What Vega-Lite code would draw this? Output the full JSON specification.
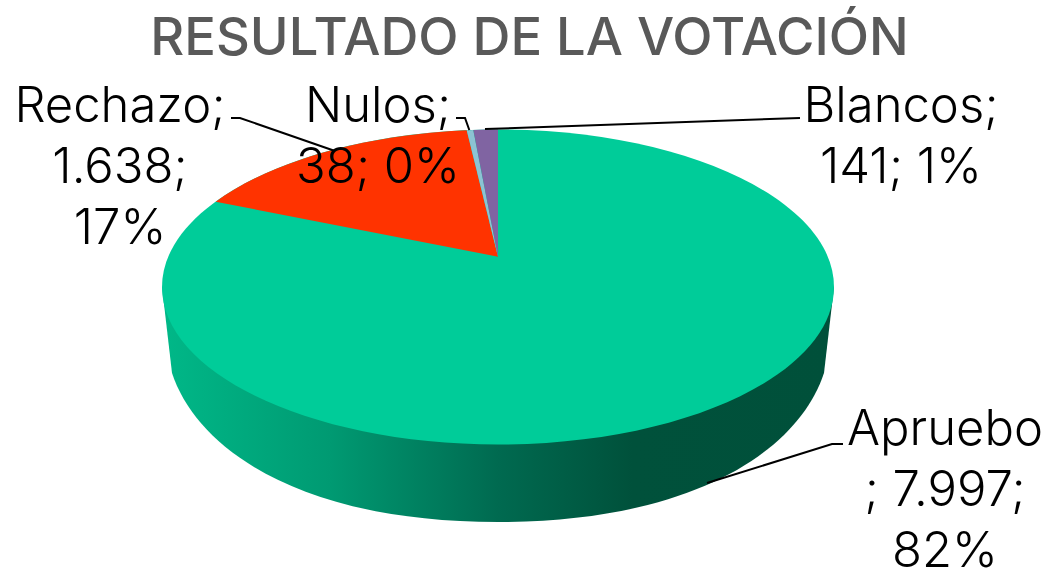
{"$schema":"https://vega.github.io/schema/vega-lite/v6.json","width":1047,"height":570,"autosize":{"type":"none"},"padding":0,"background":"white","view":{"stroke":null},
"title":{"text":"RESULTADO DE LA VOTACIÓN","font":"Inter","fontSize":52.5,"fontWeight":500,"color":"#595959","anchor":"middle","baseline":"alphabetic","dx":6,"dy":111},
"datasets":{"votos":[
{"categoria":"Apruebo","votos":7997,"porcentaje":82,"etiqueta":"Apruebo\n; 7.997;\n82%"},
{"categoria":"Rechazo","votos":1638,"porcentaje":17,"etiqueta":"Rechazo;\n1.638;\n17%"},
{"categoria":"Nulos","votos":38,"porcentaje":0,"etiqueta":"Nulos;\n38; 0%"},
{"categoria":"Blancos","votos":141,"porcentaje":1,"etiqueta":"Blancos;\n141; 1%"}]},
"data":{"name":"votos"},
"resolve":{"scale":{"shape":"independent"}},
"layer":[
{"transform":[{"filter":"datum.categoria === 'Apruebo'"}],
 "mark":{"type":"point","filled":true,"opacity":1,"size":4,"strokeWidth":0,"shape":"M -361.5 2 L -351.5 88 C -326.5 164 -223.5 237 -25.5 237 C 172.5 237 275.5 164 300.5 88 L 310.5 2 Z",
 "fill":{"gradient":"linear","x1":0,"y1":0,"x2":1,"y2":0,"stops":[{"offset":0,"color":"#00B888"},{"offset":0.25,"color":"#009A72"},{"offset":0.5,"color":"#006A50"},{"offset":0.7,"color":"#00513B"},{"offset":1,"color":"#00503A"}]}},
 "encoding":{}},
{"mark":{"type":"point","filled":true,"opacity":1,"size":4,"strokeWidth":0},
 "encoding":{
  "shape":{"field":"categoria","type":"nominal","legend":null,"scale":{"domain":["Apruebo","Rechazo","Nulos","Blancos"],"range":[
   "M -361.5 2 A 336 157.5 0 1 0 310.5 2 A 336 157.5 0 1 0 -361.5 2 Z",
   "M -25.5 -28.3 L -307.8 -83.3 A 336 157.5 0 0 1 -56.8 -154.8 Z",
   "M -25.5 -28.3 L -56.8 -154.8 A 336 157.5 0 0 1 -50.2 -155.1 Z",
   "M -25.5 -28.3 L -50.2 -155.1 A 336 157.5 0 0 1 -25.5 -155.5 Z"]}},
  "fill":{"field":"categoria","type":"nominal","legend":null,"scale":{"domain":["Apruebo","Rechazo","Nulos","Blancos"],"range":["#00CC99","#FF3300","#8CC3D3","#8064A2"]}}}},
{"mark":{"type":"point","filled":false,"opacity":1,"size":4,"stroke":"#000000","strokeWidth":2,"fill":null},
 "encoding":{
  "shape":{"field":"categoria","type":"nominal","legend":null,"scale":{"domain":["Apruebo","Rechazo","Nulos","Blancos"],"range":[
   "M 319.5 159 L 308.5 159 L 183.5 198",
   "M -292.5 -167 L -283.5 -167 L -188.5 -134",
   "M -67.5 -167 L -58.5 -167 L -54.2 -155",
   "M 276.5 -167 L -38.5 -156"]}}}},
{"transform":[{"filter":"datum.categoria === 'Rechazo'"}],"mark":{"type":"text","font":"Inter","fontSize":49,"fontWeight":300,"color":"#000000","align":"center","baseline":"alphabetic","lineBreak":"\n","lineHeight":61,"dx":-403.5,"dy":-163},"encoding":{"text":{"field":"etiqueta"}}},
{"transform":[{"filter":"datum.categoria === 'Nulos'"}],"mark":{"type":"text","font":"Inter","fontSize":49,"fontWeight":300,"color":"#000000","align":"center","baseline":"alphabetic","lineBreak":"\n","lineHeight":61,"dx":-145.5,"dy":-163},"encoding":{"text":{"field":"etiqueta"}}},
{"transform":[{"filter":"datum.categoria === 'Blancos'"}],"mark":{"type":"text","font":"Inter","fontSize":49,"fontWeight":300,"color":"#000000","align":"center","baseline":"alphabetic","lineBreak":"\n","lineHeight":61,"dx":377.5,"dy":-163},"encoding":{"text":{"field":"etiqueta"}}},
{"transform":[{"filter":"datum.categoria === 'Apruebo'"}],"mark":{"type":"text","font":"Inter","fontSize":49,"fontWeight":300,"color":"#000000","align":"center","baseline":"alphabetic","lineBreak":"\n","lineHeight":61,"dx":421.5,"dy":160},"encoding":{"text":{"field":"etiqueta"}}}
]}
